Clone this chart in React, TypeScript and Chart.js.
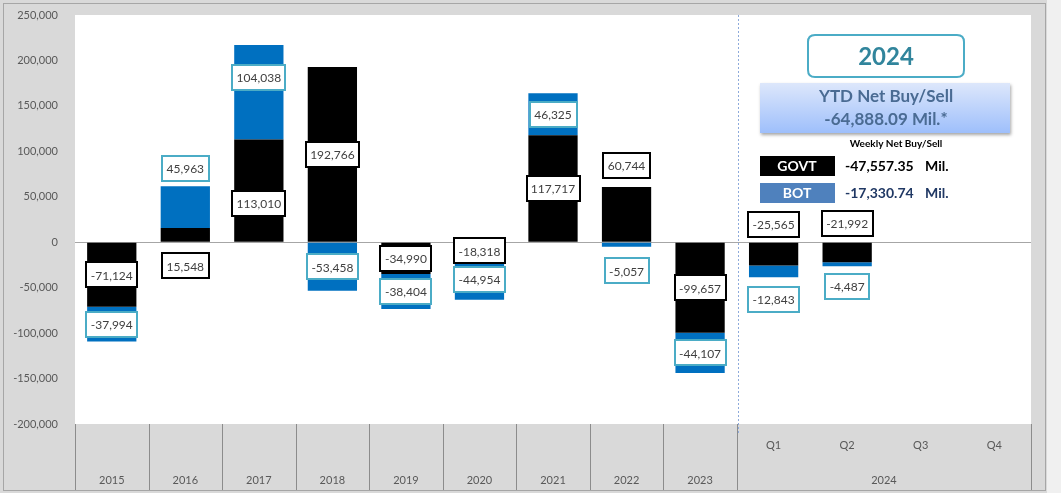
import React, { useEffect, useRef } from "react";
import { Chart, registerables } from "chart.js";

Chart.register(...registerables);

const categories = ["2015", "2016", "2017", "2018", "2019", "2020", "2021", "2022", "2023", "Q1", "Q2", "Q3", "Q4"];
const yearGroupIndex = 9; // first quarter category
const groupLabel = "2024";
const govtValues = [-71124, 15548, 113010, 192766, -34990, -18318, 117717, 60744, -99657, -25565, -21992, null, null];
const botValues = [-37994, 45963, 104038, -53458, -38404, -44954, 46325, -5057, -44107, -12843, -4487, null, null];
const yMin = -200000;
const yMax = 250000;
const yStep = 50000;

// label vertical nudges (px) relative to segment centre
const govtLabelShift = [0, 31, 13, 0, 0, 0, 0, -49, 0, -30, -29, 0, 0];
const botLabelShift = [0, -39, -15, 0, 0, 0, 0, 26, 0, 28, 22, 0, 0];

const ytdTitle = "YTD Net Buy/Sell";
const ytdValue = "-64,888.09 Mil.*";
const weeklyTitle = "Weekly Net Buy/Sell";
const govtWeekly = "-47,557.35";
const botWeekly = "-17,330.74";
const unit = "Mil.";

const W = 1061;
const H = 493;
const FONT = "Lato, 'Noto Sans', sans-serif";

const fmt = (v: number) => v.toLocaleString("en-US");

const framePlugin = {
  id: "frame",
  beforeDraw(chart: any) {
    const { ctx, chartArea: a } = chart;
    ctx.save();
    ctx.fillStyle = "#d9d9d9";
    ctx.fillRect(0, 0, W, H);
    ctx.fillStyle = "#f0f0f0";
    ctx.fillRect(1047, 0, W - 1047, H);
    ctx.fillStyle = "#ffffff";
    ctx.fillRect(a.left, a.top, a.right - a.left, a.bottom - a.top);
    ctx.strokeStyle = "#a6a6a6";
    ctx.lineWidth = 1;
    ctx.strokeRect(3.5, 3.5, 1042, 487);
    ctx.restore();
  },
};

function roundRect(ctx: CanvasRenderingContext2D, x: number, y: number, w: number, h: number, r: number) {
  ctx.beginPath();
  ctx.moveTo(x + r, y);
  ctx.lineTo(x + w - r, y);
  ctx.quadraticCurveTo(x + w, y, x + w, y + r);
  ctx.lineTo(x + w, y + h - r);
  ctx.quadraticCurveTo(x + w, y + h, x + w - r, y + h);
  ctx.lineTo(x + r, y + h);
  ctx.quadraticCurveTo(x, y + h, x, y + h - r);
  ctx.lineTo(x, y + r);
  ctx.quadraticCurveTo(x, y, x + r, y);
  ctx.closePath();
}

const labelPlugin = {
  id: "labels",
  afterDatasetsDraw(chart: any) {
    const { ctx } = chart;
    const cfg = [
      { shifts: govtLabelShift, border: "#000000" },
      { shifts: botLabelShift, border: "#4bacc6" },
    ];
    ctx.save();
    ctx.font = `12px ${FONT}`;
    ctx.textAlign = "center";
    ctx.textBaseline = "middle";
    chart.data.datasets.forEach((ds: any, di: number) => {
      const meta = chart.getDatasetMeta(di);
      meta.data.forEach((el: any, i: number) => {
        const v = ds.data[i];
        if (v === null || v === undefined) return;
        const cy = (el.y + el.base) / 2 + cfg[di].shifts[i];
        const text = fmt(v);
        const tw = ctx.measureText(text).width;
        const bw = Math.round(tw + 9);
        const bh = 25;
        const bx = Math.round(el.x - bw / 2);
        const by = Math.round(cy - bh / 2);
        ctx.fillStyle = "#ffffff";
        ctx.fillRect(bx, by, bw, bh);
        ctx.strokeStyle = cfg[di].border;
        ctx.lineWidth = 2;
        ctx.strokeRect(bx, by, bw, bh);
        ctx.fillStyle = "#404040";
        ctx.fillText(text, el.x, cy + 1);
      });
    });
    ctx.restore();
  },
};

const axisPlugin = {
  id: "axisBand",
  afterDraw(chart: any) {
    const { ctx, chartArea: a } = chart;
    const xs = chart.scales.x;
    const ys = chart.scales.y;
    const step = xs.getPixelForValue(1) - xs.getPixelForValue(0);
    const boundary = (i: number) => xs.getPixelForValue(i) - step / 2;
    ctx.save();
    // y tick labels
    ctx.fillStyle = "#595959";
    ctx.font = `11px ${FONT}`;
    ctx.textAlign = "right";
    ctx.textBaseline = "middle";
    ys.ticks.forEach((t: any) => {
      ctx.fillText(fmt(t.value), a.left - 17, ys.getPixelForValue(t.value));
    });
    // separators
    ctx.strokeStyle = "#8c8c8c";
    ctx.lineWidth = 1;
    const bIdx: number[] = [];
    for (let i = 0; i <= yearGroupIndex; i++) bIdx.push(i);
    bIdx.push(categories.length);
    bIdx.forEach((i) => {
      const x = Math.round(boundary(i)) + 0.5;
      ctx.beginPath();
      ctx.moveTo(x, a.bottom);
      ctx.lineTo(x, 490);
      ctx.stroke();
    });
    // dotted divider
    const dx = Math.round(boundary(yearGroupIndex)) + 1.5;
    ctx.strokeStyle = "#8eaadb";
    ctx.setLineDash([2, 2]);
    ctx.beginPath();
    ctx.moveTo(dx, a.top);
    ctx.lineTo(dx, 433);
    ctx.stroke();
    ctx.setLineDash([]);
    // x labels
    ctx.fillStyle = "#595959";
    ctx.font = `11px ${FONT}`;
    ctx.textAlign = "center";
    categories.forEach((c, i) => {
      const x = xs.getPixelForValue(i);
      if (i < yearGroupIndex) ctx.fillText(c, x, 480);
      else ctx.fillText(c, x, 445);
    });
    const gx = (boundary(yearGroupIndex) + boundary(categories.length)) / 2;
    ctx.fillText(groupLabel, gx, 480);

    // 2024 box
    ctx.fillStyle = "#ffffff";
    roundRect(ctx, 808, 35, 156, 42, 7);
    ctx.fill();
    ctx.strokeStyle = "#4bacc6";
    ctx.lineWidth = 2;
    ctx.stroke();
    ctx.fillStyle = "#31859c";
    ctx.font = `bold 24px ${FONT}`;
    ctx.fillText(groupLabel, 886, 57);

    // YTD box
    ctx.save();
    ctx.shadowColor = "rgba(0,0,0,0.35)";
    ctx.shadowOffsetY = 2;
    ctx.shadowOffsetX = 1;
    ctx.shadowBlur = 3;
    const g = ctx.createLinearGradient(0, 83, 0, 133);
    g.addColorStop(0, "#dde7fb");
    g.addColorStop(1, "#9ebffb");
    ctx.fillStyle = g;
    ctx.fillRect(760, 83, 250, 50);
    ctx.restore();
    ctx.fillStyle = "#4a6b93";
    ctx.font = `bold 17px ${FONT}`;
    ctx.fillText(ytdTitle, 886, 97);
    ctx.fillText(ytdValue, 886, 120);

    ctx.fillStyle = "#000000";
    ctx.font = `bold 10px ${FONT}`;
    ctx.fillText(weeklyTitle, 896, 144);

    ctx.fillStyle = "#000000";
    ctx.fillRect(760, 156, 75, 20);
    ctx.fillStyle = "#4f81bd";
    ctx.fillRect(760, 183, 75, 20);
    ctx.fillStyle = "#ffffff";
    ctx.font = `bold 14px ${FONT}`;
    ctx.fillText("GOVT", 797, 166);
    ctx.fillText("BOT", 797, 193);
    ctx.textAlign = "left";
    ctx.fillStyle = "#000000";
    ctx.fillText(govtWeekly, 845, 166);
    ctx.fillText(unit, 925, 166);
    ctx.fillStyle = "#203864";
    ctx.fillText(botWeekly, 845, 193);
    ctx.fillText(unit, 925, 193);
    ctx.restore();
  },
};

export default function App() {
  const ref = useRef<HTMLCanvasElement | null>(null);
  useEffect(() => {
    if (!ref.current) return;
    const chart = new Chart(ref.current, {
      type: "bar",
      data: {
        labels: categories,
        datasets: [
          {
            label: "GOVT",
            data: govtValues,
            backgroundColor: "#000000",
            borderWidth: 0,
            stack: "s",
          },
          {
            label: "BOT",
            data: botValues,
            backgroundColor: "#0070c0",
            borderWidth: 0,
            stack: "s",
          },
        ],
      },
      options: {
        responsive: false,
        animation: false,
        devicePixelRatio: 1,
        layout: { padding: { left: 0, top: 15, right: 30, bottom: 0 } },
        datasets: { bar: { barPercentage: 0.67, categoryPercentage: 1 } },
        plugins: { legend: { display: false }, tooltip: { enabled: false }, title: { display: false } },
        scales: {
          x: {
            stacked: true,
            grid: { display: false },
            border: { display: false },
            ticks: { display: false },
            afterFit: (s: any) => {
              s.height = 69;
            },
          },
          y: {
            stacked: true,
            min: yMin,
            max: yMax,
            border: { display: false },
            grid: {
              drawTicks: false,
              color: (c: any) => (c.tick && c.tick.value === 0 ? "#a6a6a6" : "rgba(0,0,0,0)"),
            },
            ticks: {
              display: false,
              stepSize: yStep,
            },
            afterFit: (s: any) => {
              s.width = 75;
            },
          },
        },
      },
      plugins: [framePlugin, labelPlugin, axisPlugin],
    });
    return () => chart.destroy();
  }, []);
  return (
    <div style={{ position: "fixed", left: 0, top: 0, width: W, height: H }}>
      <canvas ref={ref} width={W} height={H} style={{ width: W, height: H, display: "block" }} />
    </div>
  );
}
